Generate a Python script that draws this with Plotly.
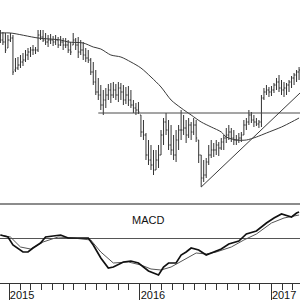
import pandas as pd
import plotly.graph_objects as go

# ---------------- data ----------------
n_weeks = 120
weeks = pd.date_range('2014-12-08', periods=n_weeks, freq='7D')

high = [170, 168, 167, 165, 167, 165, 142, 143, 145, 147, 150, 152, 153, 155, 153, 170, 170, 170, 167, 165,
        166, 164, 165, 163, 164, 162, 162, 160, 158, 167, 162, 163, 160, 158, 152, 150, 142, 138, 130, 122,
        115, 110, 112, 116, 117, 118, 116, 118, 117, 115, 113, 114, 110, 100, 97, 98, 85, 80, 67, 60,
        55, 50, 50, 55, 70, 82, 87, 80, 75, 65, 70, 75, 90, 85, 80, 82, 78, 82, 80, 60,
        45, 40, 42, 55, 60, 57, 60, 58, 62, 65, 72, 75, 72, 70, 65, 67, 68, 80, 82, 90,
        88, 85, 82, 80, 105, 112, 115, 113, 114, 117, 122, 125, 120, 118, 117, 120, 124, 127, 130, 133]
low = [157, 155, 147, 152, 158, 125, 128, 130, 132, 134, 138, 140, 143, 145, 146, 148, 160, 158, 155, 153,
       156, 154, 155, 152, 154, 150, 152, 147, 145, 155, 150, 142, 145, 140, 138, 137, 125, 115, 105, 100,
       90, 85, 92, 100, 97, 102, 100, 98, 100, 95, 96, 94, 92, 87, 85, 86, 63, 60, 40, 35,
       30, 25, 30, 32, 45, 55, 65, 50, 45, 40, 38, 50, 60, 65, 57, 62, 60, 65, 58, 37,
       13, 18, 22, 35, 42, 43, 45, 44, 50, 50, 57, 60, 58, 55, 55, 57, 58, 65, 70, 75,
       77, 73, 74, 72, 73, 100, 105, 103, 104, 107, 110, 108, 105, 103, 105, 108, 112, 115, 118, 120]
opn = [165, 160, 158, 152, 160, 162, 130, 132, 135, 138, 140, 145, 148, 150, 150, 150, 165, 163, 160, 158,
       160, 160, 158, 160, 155, 158, 155, 155, 150, 155, 160, 155, 148, 150, 145, 142, 140, 128, 118, 108,
       105, 95, 100, 105, 110, 105, 110, 105, 112, 108, 100, 105, 100, 95, 92, 90, 85, 68, 65, 45,
       40, 35, 30, 40, 45, 65, 78, 70, 55, 50, 45, 60, 70, 70, 72, 65, 75, 68, 75, 60,
       45, 22, 25, 38, 45, 50, 50, 55, 52, 58, 62, 65, 68, 62, 60, 60, 62, 65, 75, 78,
       85, 80, 78, 76, 78, 102, 108, 110, 108, 110, 115, 118, 112, 110, 112, 115, 118, 122, 125, 128]
close = [160, 158, 150, 160, 162, 128, 132, 135, 138, 140, 145, 148, 150, 150, 150, 165, 163, 160, 158, 160,
         160, 158, 160, 155, 158, 155, 155, 150, 148, 160, 155, 148, 150, 145, 142, 140, 128, 118, 108, 105,
         95, 100, 105, 110, 105, 110, 105, 112, 108, 100, 105, 100, 95, 92, 90, 88, 68, 65, 45, 40,
         35, 30, 40, 45, 65, 78, 70, 55, 50, 45, 60, 70, 70, 72, 65, 75, 68, 75, 62, 45,
         22, 25, 38, 45, 50, 50, 55, 52, 58, 62, 65, 68, 62, 60, 60, 62, 65, 75, 78, 85,
         80, 78, 76, 78, 102, 108, 110, 108, 110, 115, 118, 112, 110, 112, 115, 118, 122, 125, 128, 130]

# moving average (read at selected weeks)
ma_week = [0, 4, 15, 24, 27, 33, 37, 40, 44, 48, 52, 56, 60, 64, 68, 72, 76, 80, 84, 88,
           90, 94, 98, 102, 106, 112, 116, 119]
ma_value = [167, 167, 162, 160, 158, 157, 153, 151, 145, 143, 138, 132, 123, 113, 100, 92, 85, 78, 73, 68,
            63, 60, 60, 63, 67, 73, 78, 82]

# support level and rising trendline
support_week = 39
support_level = 87
trend_week = 80
trend_start = 13
trend_end = 107

# MACD and signal (read at selected weeks)
macd_week = [0, 3, 5, 9, 11, 13, 16, 18, 21, 24, 27, 32, 35, 37, 40, 43, 45, 49, 52, 55,
             59, 63, 65, 67, 70, 72, 74, 76, 79, 82, 85, 88, 91, 95, 98, 102, 106, 109, 112, 116,
             118, 119]
macd_value = [0.3, 0.1, -0.7, -1.4, -1.4, -1.0, -0.5, 0.1, 0.2, 0.3, 0.0, 0.0, 0.0, -0.7, -2.0, -3.0, -2.9, -2.4, -2.3, -2.5,
              -3.3, -3.7, -2.9, -2.5, -2.5, -1.7, -1.4, -1.0, -1.2, -1.7, -1.4, -1.1, -0.6, -0.3, 0.4, 0.7, 1.5, 2.0, 2.4, 2.1,
              2.5, 2.6]
signal_week = [0, 4, 8, 12, 17, 23, 29, 36, 40, 45, 51, 56, 60, 64, 68, 73, 78, 82, 86, 92,
               97, 102, 108, 113, 119]
signal_value = [0.3, 0.1, -0.9, -1.1, -0.4, 0.1, 0.0, -0.2, -1.4, -2.5, -2.4, -2.7, -3.1, -3.2, -2.9, -2.2, -1.5, -1.6, -1.4, -0.9,
                -0.2, 0.4, 1.5, 2.0, 2.3]

year_ticks = ['2015-01-01', '2016-01-01', '2017-01-01']
year_labels = ['2015', '2016', '2017']
x_range = ['2014-12-06 21:00', '2017-03-22 14:00']

# ---------------- figure ----------------
bar_col = '#333333'
fig = go.Figure()

fig.add_trace(go.Ohlc(
    x=weeks, open=opn, high=high, low=low, close=close,
    increasing=dict(line=dict(color=bar_col, width=1)),
    decreasing=dict(line=dict(color=bar_col, width=1)),
    tickwidth=0.4, xaxis='x', yaxis='y', showlegend=False, hoverinfo='skip'))

fig.add_trace(go.Scatter(
    x=[weeks[i] for i in ma_week], y=ma_value, mode='lines',
    line=dict(color='#3a3a3a', width=1, shape='spline', smoothing=0.8),
    xaxis='x', yaxis='y', showlegend=False, hoverinfo='skip'))

fig.add_trace(go.Scatter(
    x=[weeks[support_week], x_range[1]], y=[support_level, support_level], mode='lines',
    line=dict(color='#4a4a4a', width=1), xaxis='x', yaxis='y', showlegend=False, hoverinfo='skip'))

fig.add_trace(go.Scatter(
    x=[weeks[trend_week], x_range[1]], y=[trend_start, trend_end], mode='lines',
    line=dict(color='#3a3a3a', width=1), xaxis='x', yaxis='y', showlegend=False, hoverinfo='skip'))

fig.add_trace(go.Scatter(
    x=[weeks[i] for i in signal_week], y=signal_value, mode='lines',
    line=dict(color='#555555', width=1),
    xaxis='x2', yaxis='y2', showlegend=False, hoverinfo='skip'))

fig.add_trace(go.Scatter(
    x=[weeks[i] for i in macd_week], y=macd_value, mode='lines',
    line=dict(color='#111111', width=1.7),
    xaxis='x2', yaxis='y2', showlegend=False, hoverinfo='skip'))

split = 80 / 283

fig.update_layout(
    width=300, height=300,
    margin=dict(l=0, r=0, t=0, b=17),
    paper_bgcolor='white', plot_bgcolor='white',
    font=dict(family='Liberation Sans, Arial, sans-serif', size=11, color='#111'),
    xaxis=dict(domain=[0, 1], anchor='y', range=x_range, type='date',
               showline=True, linecolor='#8c8c8c', linewidth=2,
               showticklabels=False, ticks='', showgrid=False, zeroline=False,
               rangeslider=dict(visible=False)),
    yaxis=dict(domain=[split, 1], range=[-3, 200], showticklabels=False, ticks='',
               showgrid=False, zeroline=False, showline=False),
    xaxis2=dict(domain=[0, 1], anchor='y2', range=x_range, type='date', matches='x',
                showline=True, linecolor='#333', linewidth=1, showgrid=False, zeroline=False,
                ticks='outside', tickmode='array', tickvals=year_ticks, ticktext=year_labels,
                ticklen=17, tickcolor='#333', tickwidth=1,
                tickfont=dict(size=11, color='#111'),
                ticklabelshift=13, ticklabelstandoff=-15,
                minor=dict(ticks='outside', ticklen=6, dtick='M1', tick0='2015-01-01',
                           tickcolor='#333', tickwidth=1, showgrid=False)),
    yaxis2=dict(domain=[0, split], range=[-4.5, 3.5], showticklabels=False, ticks='',
                showgrid=False, zeroline=True, zerolinecolor='#555', zerolinewidth=1,
                showline=False),
    annotations=[dict(text='MACD', xref='paper', yref='paper', x=0.493, y=0.195,
                      showarrow=False, font=dict(size=11, color='#111'))],
)

fig.write_html('out.html')
